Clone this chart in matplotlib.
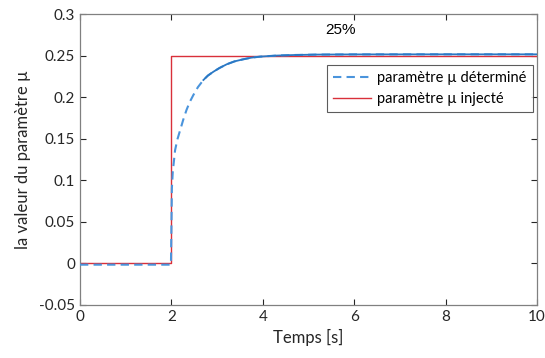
import numpy as np
import matplotlib
matplotlib.use("Agg")
import matplotlib.pyplot as plt

# estimated parameter
t_est = [0.0, 1.0, 1.99, 2.0, 2.01, 2.03, 2.08, 2.13, 2.19, 2.26, 2.33, 2.40, 2.48,
         2.58, 2.70, 2.80, 2.92, 3.05, 3.21, 3.38, 3.57, 3.75, 3.94, 4.30, 4.70,
         5.20, 6.0, 8.0, 10.0]
mu_est = [-0.0015, -0.0015, -0.0015, 0.04, 0.09, 0.110, 0.136, 0.149, 0.160, 0.173,
          0.1845, 0.194, 0.2025, 0.212, 0.2206, 0.226, 0.2306, 0.235, 0.2395, 0.243,
          0.2455, 0.2475, 0.2487, 0.2500, 0.2507, 0.2512, 0.2514, 0.2515, 0.2515]

# injected parameter (step)
t_inj = [0.0, 2.0, 2.0, 10.0]
mu_inj = [0.0, 0.0, 0.25, 0.25]

xticks = [0, 2, 4, 6, 8, 10]
yticks = [-0.05, 0, 0.05, 0.1, 0.15, 0.2, 0.25, 0.3]
ytick_labels = ["-0.05", "0", "0.05", "0.1", "0.15", "0.2", "0.25", "0.3"]

plt.rcParams["font.family"] = ["Lato", "DejaVu Sans"]

fig = plt.figure(figsize=(5.45, 3.58), dpi=100)
ax = fig.add_axes([80 / 545, 53 / 358, 457 / 545, 291 / 358])

ax.plot(t_est, mu_est, color="#4a94dc", linestyle="--", dashes=(4, 2.5), linewidth=1.5,
        label="paramètre µ déterminé", zorder=3)
# the noisy estimate looks nearly solid once it has settled
t_arr = np.array(t_est)
mu_arr = np.array(mu_est)
sel = t_arr >= 2.6
ax.plot(t_arr[sel], mu_arr[sel], color="#2a78c4", linewidth=1.3, zorder=4)
ax.plot(t_inj, mu_inj, color="#d9303a", linewidth=1.0, label="paramètre µ injecté", zorder=2)

ax.set_xlim(0, 10)
ax.set_ylim(-0.05, 0.3)
ax.set_xticks(xticks)
ax.set_yticks(yticks)
ax.set_yticklabels(ytick_labels)
ax.tick_params(direction="in", top=True, right=True, labelsize=11, colors="#262626",
               length=4, width=0.8)
for s in ax.spines.values():
    s.set_color("#808080")
    s.set_linewidth(0.9)

ax.set_xlabel("Temps [s]", fontsize=12, color="#262626", labelpad=4)
ax.set_ylabel("la valeur du paramètre µ", fontsize=12, color="#262626", labelpad=6)

ax.text(5.7, 0.281, "25%", fontsize=11, family="Liberation Sans", ha="center", va="center")

leg = ax.legend(loc="upper right", bbox_to_anchor=(0.991, 0.826), fontsize=10.5,
                frameon=True, fancybox=False, edgecolor="#333333", borderpad=0.45,
                handlelength=2.6, handletextpad=0.4, labelspacing=0.45, borderaxespad=0)
leg.get_frame().set_linewidth(0.8)

fig.savefig("out.png", dpi=100)
